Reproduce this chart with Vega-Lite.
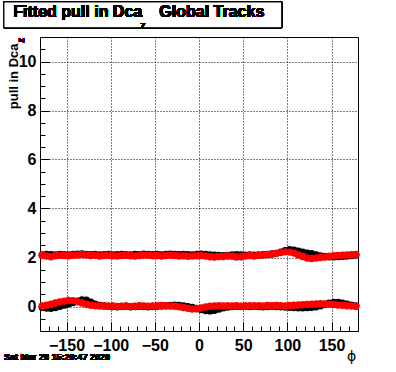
{
  "$schema": "https://vega.github.io/schema/vega-lite/v6.json",
  "width": 318,
  "height": 294,
  "autosize": {"type": "none"},
  "padding": {"left": 40, "top": 37, "right": 38, "bottom": 41},
  "background": "white",
  "config": {"view": {"stroke": "black", "strokeWidth": 1}, "font": "Liberation Sans"},
  "data": {"values": [
    {"phi": -177.5, "ub": 2.10, "ur": 2.08, "lb": -0.03, "lr": 0.02},
    {"phi": -172.5, "ub": 2.12, "ur": 2.06, "lb": -0.06, "lr": 0.05},
    {"phi": -167.5, "ub": 2.11, "ur": 2.03, "lb": -0.07, "lr": 0.09},
    {"phi": -162.5, "ub": 2.10, "ur": 2.07, "lb": -0.04, "lr": 0.14},
    {"phi": -157.5, "ub": 2.12, "ur": 2.09, "lb": 0.01, "lr": 0.19},
    {"phi": -152.5, "ub": 2.11, "ur": 2.08, "lb": 0.06, "lr": 0.22},
    {"phi": -147.5, "ub": 2.10, "ur": 2.07, "lb": 0.11, "lr": 0.25},
    {"phi": -142.5, "ub": 2.12, "ur": 2.09, "lb": 0.16, "lr": 0.24},
    {"phi": -137.5, "ub": 2.13, "ur": 2.10, "lb": 0.22, "lr": 0.19},
    {"phi": -132.5, "ub": 2.14, "ur": 2.12, "lb": 0.27, "lr": 0.14},
    {"phi": -127.5, "ub": 2.12, "ur": 2.10, "lb": 0.26, "lr": 0.09},
    {"phi": -122.5, "ub": 2.11, "ur": 2.08, "lb": 0.18, "lr": 0.05},
    {"phi": -117.5, "ub": 2.12, "ur": 2.09, "lb": 0.09, "lr": 0.03},
    {"phi": -112.5, "ub": 2.10, "ur": 2.06, "lb": 0.04, "lr": 0.02},
    {"phi": -107.5, "ub": 2.11, "ur": 2.08, "lb": 0.02, "lr": 0.03},
    {"phi": -102.5, "ub": 2.12, "ur": 2.09, "lb": 0.01, "lr": 0.01},
    {"phi": -97.5, "ub": 2.10, "ur": 2.07, "lb": 0.00, "lr": 0.02},
    {"phi": -92.5, "ub": 2.11, "ur": 2.06, "lb": -0.01, "lr": 0.00},
    {"phi": -87.5, "ub": 2.12, "ur": 2.08, "lb": 0.00, "lr": 0.01},
    {"phi": -82.5, "ub": 2.11, "ur": 2.09, "lb": 0.01, "lr": 0.02},
    {"phi": -77.5, "ub": 2.10, "ur": 2.07, "lb": -0.01, "lr": 0.00},
    {"phi": -72.5, "ub": 2.12, "ur": 2.06, "lb": 0.00, "lr": 0.01},
    {"phi": -67.5, "ub": 2.11, "ur": 2.08, "lb": 0.01, "lr": 0.03},
    {"phi": -62.5, "ub": 2.13, "ur": 2.10, "lb": 0.00, "lr": 0.02},
    {"phi": -57.5, "ub": 2.12, "ur": 2.09, "lb": -0.01, "lr": 0.01},
    {"phi": -52.5, "ub": 2.11, "ur": 2.07, "lb": 0.00, "lr": 0.02},
    {"phi": -47.5, "ub": 2.12, "ur": 2.08, "lb": 0.01, "lr": 0.03},
    {"phi": -42.5, "ub": 2.10, "ur": 2.06, "lb": 0.02, "lr": 0.04},
    {"phi": -37.5, "ub": 2.12, "ur": 2.08, "lb": 0.03, "lr": 0.03},
    {"phi": -32.5, "ub": 2.13, "ur": 2.09, "lb": 0.04, "lr": 0.02},
    {"phi": -27.5, "ub": 2.12, "ur": 2.08, "lb": 0.05, "lr": 0.01},
    {"phi": -22.5, "ub": 2.11, "ur": 2.06, "lb": 0.04, "lr": -0.01},
    {"phi": -17.5, "ub": 2.12, "ur": 2.07, "lb": 0.02, "lr": -0.04},
    {"phi": -12.5, "ub": 2.11, "ur": 2.05, "lb": -0.01, "lr": -0.07},
    {"phi": -7.5, "ub": 2.10, "ur": 2.06, "lb": -0.04, "lr": -0.10},
    {"phi": -2.5, "ub": 2.12, "ur": 2.07, "lb": -0.08, "lr": -0.09},
    {"phi": 2.5, "ub": 2.13, "ur": 2.08, "lb": -0.12, "lr": -0.06},
    {"phi": 7.5, "ub": 2.12, "ur": 2.06, "lb": -0.16, "lr": -0.02},
    {"phi": 12.5, "ub": 2.10, "ur": 2.03, "lb": -0.18, "lr": 0.01},
    {"phi": 17.5, "ub": 2.09, "ur": 2.02, "lb": -0.15, "lr": 0.02},
    {"phi": 22.5, "ub": 2.08, "ur": 2.04, "lb": -0.10, "lr": 0.03},
    {"phi": 27.5, "ub": 2.07, "ur": 2.04, "lb": -0.05, "lr": 0.02},
    {"phi": 32.5, "ub": 2.08, "ur": 2.06, "lb": -0.02, "lr": 0.03},
    {"phi": 37.5, "ub": 2.10, "ur": 2.05, "lb": 0.00, "lr": 0.02},
    {"phi": 42.5, "ub": 2.11, "ur": 2.02, "lb": 0.01, "lr": 0.03},
    {"phi": 47.5, "ub": 2.10, "ur": 2.03, "lb": 0.00, "lr": 0.01},
    {"phi": 52.5, "ub": 2.09, "ur": 2.06, "lb": 0.01, "lr": 0.02},
    {"phi": 57.5, "ub": 2.10, "ur": 2.08, "lb": 0.00, "lr": 0.03},
    {"phi": 62.5, "ub": 2.09, "ur": 2.06, "lb": 0.01, "lr": 0.02},
    {"phi": 67.5, "ub": 2.10, "ur": 2.09, "lb": 0.00, "lr": 0.03},
    {"phi": 72.5, "ub": 2.11, "ur": 2.10, "lb": -0.01, "lr": 0.02},
    {"phi": 77.5, "ub": 2.12, "ur": 2.12, "lb": 0.00, "lr": 0.04},
    {"phi": 82.5, "ub": 2.14, "ur": 2.14, "lb": 0.01, "lr": 0.03},
    {"phi": 87.5, "ub": 2.17, "ur": 2.17, "lb": 0.00, "lr": 0.04},
    {"phi": 92.5, "ub": 2.22, "ur": 2.20, "lb": -0.01, "lr": 0.03},
    {"phi": 97.5, "ub": 2.28, "ur": 2.23, "lb": -0.02, "lr": 0.02},
    {"phi": 102.5, "ub": 2.32, "ur": 2.22, "lb": -0.03, "lr": 0.04},
    {"phi": 107.5, "ub": 2.30, "ur": 2.18, "lb": -0.04, "lr": 0.05},
    {"phi": 112.5, "ub": 2.26, "ur": 2.10, "lb": -0.05, "lr": 0.06},
    {"phi": 117.5, "ub": 2.22, "ur": 2.04, "lb": -0.05, "lr": 0.07},
    {"phi": 122.5, "ub": 2.18, "ur": 1.98, "lb": -0.04, "lr": 0.08},
    {"phi": 127.5, "ub": 2.15, "ur": 1.96, "lb": -0.03, "lr": 0.09},
    {"phi": 132.5, "ub": 2.10, "ur": 1.98, "lb": -0.01, "lr": 0.10},
    {"phi": 137.5, "ub": 2.06, "ur": 2.00, "lb": 0.03, "lr": 0.11},
    {"phi": 142.5, "ub": 2.04, "ur": 2.02, "lb": 0.08, "lr": 0.10},
    {"phi": 147.5, "ub": 2.03, "ur": 2.05, "lb": 0.13, "lr": 0.09},
    {"phi": 152.5, "ub": 2.03, "ur": 2.07, "lb": 0.16, "lr": 0.08},
    {"phi": 157.5, "ub": 2.04, "ur": 2.08, "lb": 0.16, "lr": 0.06},
    {"phi": 162.5, "ub": 2.05, "ur": 2.09, "lb": 0.13, "lr": 0.05},
    {"phi": 167.5, "ub": 2.06, "ur": 2.10, "lb": 0.09, "lr": 0.03},
    {"phi": 172.5, "ub": 2.08, "ur": 2.11, "lb": 0.05, "lr": 0.02},
    {"phi": 177.5, "ub": 2.10, "ur": 2.12, "lb": 0.02, "lr": 0.01}
  ]},
  "layer": [
    {
      "transform": [{"fold": ["ub", "lb"], "as": ["key", "pull"]}],
      "mark": {"type": "point", "filled": true, "shape": "circle", "size": 55, "color": "black", "opacity": 1},
      "encoding": {
        "x": {"field": "phi", "type": "quantitative",
          "scale": {"domain": [-180, 180], "nice": false, "zero": false},
          "axis": {
            "values": [-170,-160,-150,-140,-130,-120,-110,-100,-90,-80,-70,-60,-50,-40,-30,-20,-10,0,10,20,30,40,50,60,70,80,90,100,110,120,130,140,150,160,170],
            "tickCount": 100, "format": "d",
            "title": "ϕ", "titleX": 311, "titleY": 29, "titleAlign": "center", "titleBaseline": "alphabetic",
            "titleFont": "DejaVu Sans", "titleFontSize": 14, "titleFontWeight": "normal", "titleColor": "black",
            "labelExpr": "datum.value % 50 === 0 ? datum.label : ''",
            "labelFont": "Liberation Sans", "labelFontWeight": "bold", "labelFontSize": 16, "labelColor": "black",
            "labelPadding": 15, "labelFlush": false, "labelOverlap": false,
            "domainColor": "black", "tickColor": "black",
            "tickSize": -9,
            "tickDash": {"condition": {"test": "datum.value % 50 === 0", "value": [20, 1]}, "value": [5, 20]},
            "grid": true, "gridColor": "black", "gridDash": [1, 2],
            "gridOpacity": {"condition": {"test": "datum.value % 50 === 0", "value": 1}, "value": 0}
          }
        },
        "y": {"field": "pull", "type": "quantitative",
          "scale": {"domain": [-1, 11], "nice": false, "zero": false},
          "axis": {
            "values": [-0.5,0,0.5,1,1.5,2,2.5,3,3.5,4,4.5,5,5.5,6,6.5,7,7.5,8,8.5,9,9.5,10,10.5],
            "tickCount": 100,
            "title": "pull in Dca", "titleX": -23, "titleY": 6, "titleAngle": 270, "titleAlign": "right", "titleBaseline": "alphabetic",
            "titleFont": "Liberation Sans", "titleFontSize": 13, "titleFontWeight": "bold", "titleColor": "black",
            "labelExpr": "datum.value % 2 === 0 ? format(datum.value, 'd') : ''",
            "labelFont": "Liberation Sans", "labelFontWeight": "bold", "labelFontSize": 16, "labelColor": "black",
            "labelPadding": 13, "labelFlush": false, "labelOverlap": false,
            "domainColor": "black", "tickColor": "black",
            "tickSize": -9,
            "tickDash": {"condition": {"test": "datum.value % 2 === 0", "value": [20, 1]}, "value": [5, 20]},
            "grid": true, "gridColor": "black", "gridDash": [1, 2],
            "gridOpacity": {"condition": {"test": "datum.value % 2 === 0", "value": 1}, "value": 0}
          }
        }
      }
    },
    {
      "transform": [{"fold": ["ur", "lr"], "as": ["key", "pull"]}],
      "mark": {"type": "point", "filled": true, "shape": "circle", "size": 55, "color": "red", "opacity": 1},
      "encoding": {
        "x": {"field": "phi", "type": "quantitative"},
        "y": {"field": "pull", "type": "quantitative"}
      }
    },
    {
      "mark": {"type": "rect", "fill": "white", "stroke": "black", "strokeWidth": 1, "clip": false},
      "encoding": {"x": {"datum": -220.8}, "x2": {"datum": 93.6}, "y": {"datum": 12.43}, "y2": {"datum": 11.38}}
    },
    {
      "mark": {"type": "text", "text": "Fitted pull in Dca", "align": "left", "baseline": "alphabetic", "font": "Liberation Sans", "fontWeight": "bold", "fontSize": 16, "color": "black"},
      "encoding": {"x": {"datum": -210.2}, "y": {"datum": 11.83}}
    },
    {
      "mark": {"type": "text", "text": "z", "align": "left", "baseline": "alphabetic", "font": "Liberation Sans", "fontWeight": "bold", "fontSize": 11, "color": "black"},
      "encoding": {"x": {"datum": -66.8}, "y": {"datum": 11.314}}
    },
    {
      "mark": {"type": "text", "text": "Global Tracks", "align": "left", "baseline": "alphabetic", "font": "Liberation Sans", "fontWeight": "bold", "fontSize": 16, "color": "black"},
      "encoding": {"x": {"datum": -44.9}, "y": {"datum": 11.83}}
    },
    {
      "mark": {"type": "text", "text": "z", "angle": 270, "align": "left", "baseline": "alphabetic", "font": "Liberation Sans", "fontWeight": "bold", "fontSize": 9, "color": "black"},
      "encoding": {"x": {"datum": -198.1}, "y": {"datum": 10.78}}
    },
    {
      "mark": {"type": "text", "text": "Sat Mar 28 15:20:47 2020", "align": "left", "baseline": "alphabetic", "font": "Liberation Sans", "fontWeight": "bold", "fontSize": 9, "color": "black"},
      "encoding": {"x": {"datum": -220.8}, "y": {"datum": -2.18}}
    }
  ]
}
